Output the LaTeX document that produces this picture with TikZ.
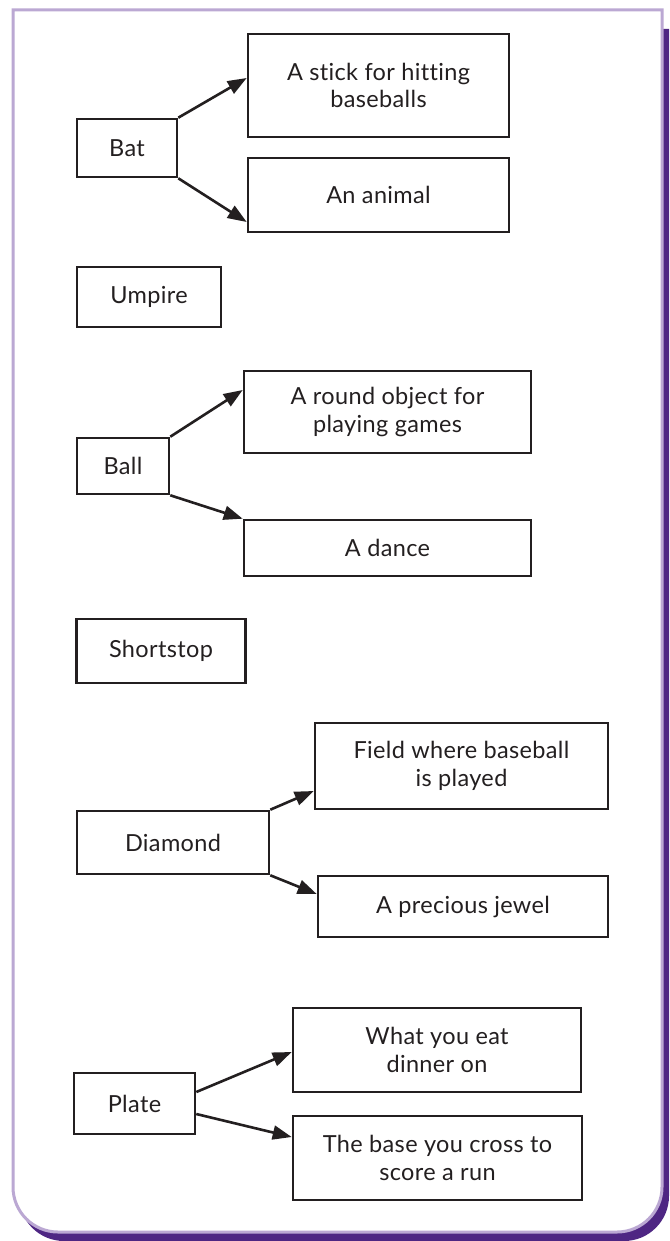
\documentclass[tikz,border=0pt]{standalone}
\usepackage{fontspec}
\setmainfont{Lato}[LetterSpace=1.5, Ligatures={NoCommon}]
\usetikzlibrary{arrows.meta}
\definecolor{ink}{HTML}{231F20}
\definecolor{lav}{HTML}{BBA8D3}
\definecolor{deep}{HTML}{4E2683}
\begin{document}
\begin{tikzpicture}[x=1pt,y=-1pt,
  box/.style={draw=ink, line width=2.6pt, fill=white, align=center, inner sep=0pt,
    text=ink, font=\fontsize{23.5}{27.5}\selectfont},
  link/.style={draw=ink, line width=2.6pt, -{Triangle[length=19pt,width=14pt]}}]
\useasboundingbox (0,0) rectangle (669,1241);
% shadow and frame
\fill[deep] (19,29) -- (669,29) -- (669,1196)
  arc[start angle=0,end angle=-90,radius=45pt] -- (64,1241)
  arc[start angle=-90,end angle=-180,radius=45pt] -- cycle;
\draw[lav, line width=3pt, fill=white] (13,10) -- (662,10) -- (662,1187)
  arc[start angle=0,end angle=-90,radius=45pt] -- (58,1232)
  arc[start angle=-90,end angle=-180,radius=45pt] -- cycle;
% nodes
\node[box, minimum width=100pt, minimum height=58pt] (bat) at (127,148) {Bat};
\node[box, minimum width=261pt, minimum height=103pt] (stick) at (378.5,85.5) {A stick for hitting\\baseballs};
\node[box, minimum width=261pt, minimum height=74pt] (animal) at (378.5,195) {An animal};
\node[box, minimum width=144pt, minimum height=60pt] (umpire) at (149,297) {Umpire};
\node[box, minimum width=92pt, minimum height=56pt] (ball) at (123,466) {Ball};
\node[box, minimum width=287pt, minimum height=82pt] (round) at (387.5,412) {A round object for\\playing games};
\node[box, minimum width=287pt, minimum height=56pt] (dance) at (387.5,548) {A dance};
\node[box, minimum width=169pt, minimum height=64pt] (short) at (161,651) {Shortstop};
\node[box, minimum width=293pt, minimum height=86pt] (field) at (461.5,766) {Field where baseball\\is played};
\node[box, minimum width=192pt, minimum height=63pt] (diamond) at (173,842.5) {Diamond};
\node[box, minimum width=290pt, minimum height=61pt] (jewel) at (463,906.5) {A precious jewel};
\node[box, minimum width=121pt, minimum height=61pt] (plate) at (134.5,1103.5) {Plate};
\node[box, minimum width=288pt, minimum height=84pt] (eat) at (437,1050) {What you eat\\dinner on};
\node[box, minimum width=289pt, minimum height=84pt] (base) at (437.5,1158) {The base you cross to\\score a run};
% connectors
\draw[link] (bat.north east) -- ([yshift=7.5pt]stick.west);
\draw[link] (bat.south east) -- ([yshift=-27pt]animal.west);
\draw[link] (ball.north east) -- ([yshift=22pt]round.west);
\draw[link] (ball.south east) -- (dance.north west);
\draw[link] (diamond.north east) -- ([yshift=-25pt]field.west);
\draw[link] (diamond.south east) -- ([yshift=12.5pt]jewel.west);
\draw[link] ([yshift=11.5pt]plate.east) -- ([yshift=-2pt]eat.west);
\draw[link] ([yshift=-10.5pt]plate.east) -- ([yshift=21pt]base.west);
\end{tikzpicture}
\end{document}
